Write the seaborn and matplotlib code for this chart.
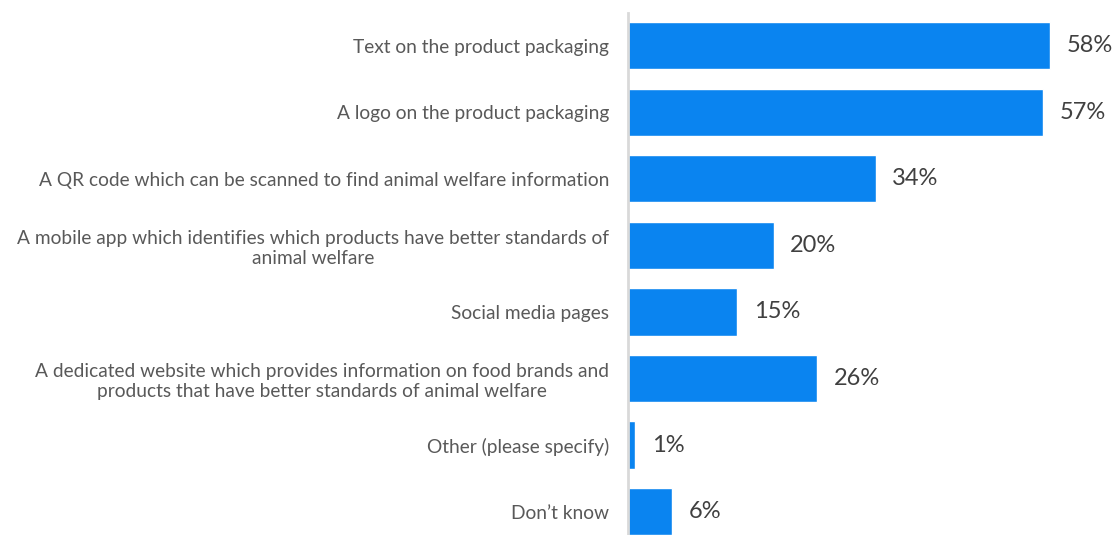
import matplotlib
matplotlib.use("Agg")
import matplotlib.pyplot as plt
import seaborn as sns
import pandas as pd

categories = [
    "Text on the product packaging",
    "A logo on the product packaging",
    "A QR code which can be scanned to find animal welfare information",
    "A mobile app which identifies which products have better standards of\nanimal welfare",
    "Social media pages",
    "A dedicated website which provides information on food brands and\nproducts that have better standards of animal welfare",
    "Other (please specify)",
    "Don\u2019t know",
]
values = [58, 57, 34, 20, 15, 26, 1, 6]
value_labels = ["58%", "57%", "34%", "20%", "15%", "26%", "1%", "6%"]

BAR_COLOR = "#0A84F0"
TEXT_COLOR = "#595959"

sns.set_theme(style="white")
plt.rcParams["font.family"] = ["Lato", "DejaVu Sans"]

df = pd.DataFrame({"option": categories, "share": values})

W, H = 1117, 535
fig = plt.figure(figsize=(W / 100, H / 100), dpi=100)
left_px, right_px, top_px, bottom_px = 628, 1117, 13, 535
ax = fig.add_axes([left_px / W, 1 - bottom_px / H,
                   (right_px - left_px) / W, (bottom_px - top_px) / H])

sns.barplot(data=df, x="share", y="option", orient="h", color=BAR_COLOR,
            saturation=1, width=0.71, ax=ax)

ax.set_xlim(0, (right_px - left_px) / 7.28)
ax.set_ylim(7.35, -0.49)
ax.set_xlabel("")
ax.set_ylabel("")
ax.set_xticks([])

for spine in ["top", "right", "bottom"]:
    ax.spines[spine].set_visible(False)
ax.spines["left"].set_color("#D9D9D9")
ax.spines["left"].set_linewidth(2)

ax.tick_params(axis="y", length=0, pad=13.5, labelsize=13.8, labelcolor=TEXT_COLOR)
for lbl in ax.get_yticklabels():
    lbl.set_multialignment("center")
    lbl.set_linespacing(1.2)

for container in ax.containers:
    ax.bar_label(container, labels=value_labels, padding=12,
                 fontsize=17, color="#404040")

fig.savefig("out.png", dpi=100)
